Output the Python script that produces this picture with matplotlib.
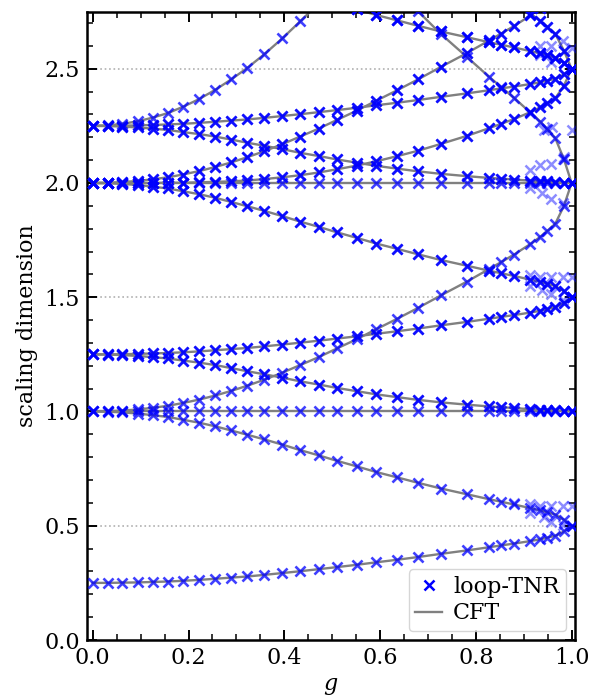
import matplotlib.pyplot as plt
from matplotlib.lines import Line2D

plt.rcParams['font.family'] = 'DejaVu Serif'
plt.rcParams['mathtext.fontset'] = 'dejavuserif'
plt.rcParams['font.size'] = 16

# coupling values where loop-TNR was run
g = [0.0, 0.031, 0.062, 0.094, 0.125, 0.157, 0.188, 0.222, 0.256, 0.289, 0.323,
     0.358, 0.396, 0.433, 0.472, 0.510, 0.551, 0.592, 0.635, 0.679, 0.727, 0.781,
     0.828, 0.853, 0.880, 0.914, 0.935, 0.949, 0.966, 0.984, 1.0]

# scaling dimension branches
x_025 = [0.250, 0.250, 0.251, 0.252, 0.254, 0.256, 0.259, 0.263, 0.268, 0.273, 0.278,
         0.285, 0.293, 0.301, 0.310, 0.319, 0.329, 0.340, 0.351, 0.363, 0.377, 0.392,
         0.406, 0.414, 0.422, 0.433, 0.441, 0.448, 0.456, 0.475, 0.500]
x_1_down = [1.000, 0.999, 0.996, 0.991, 0.984, 0.976, 0.964, 0.951, 0.935, 0.917, 0.898,
            0.878, 0.855, 0.831, 0.808, 0.784, 0.760, 0.735, 0.712, 0.688, 0.663, 0.638,
            0.616, 0.605, 0.593, 0.577, 0.567, 0.559, 0.549, 0.526, 0.500]
x_1_up = [1.000, 1.001, 1.004, 1.009, 1.016, 1.025, 1.037, 1.052, 1.070, 1.090, 1.113,
          1.139, 1.170, 1.203, 1.238, 1.276, 1.316, 1.360, 1.405, 1.453, 1.508, 1.568,
          1.624, 1.654, 1.687, 1.733, 1.765, 1.790, 1.822, 1.900, 2.000]
x_1_flat = [1.0] * 31
x_125_up = [1.250, 1.250, 1.251, 1.252, 1.254, 1.256, 1.259, 1.263, 1.268, 1.273, 1.278,
            1.285, 1.293, 1.301, 1.310, 1.319, 1.329, 1.340, 1.351, 1.363, 1.377, 1.392,
            1.406, 1.414, 1.422, 1.433, 1.441, 1.448, 1.456, 1.475, 1.500]
x_125_down = [1.250, 1.249, 1.247, 1.243, 1.238, 1.232, 1.223, 1.214, 1.203, 1.190, 1.176,
              1.163, 1.148, 1.132, 1.118, 1.103, 1.089, 1.075, 1.063, 1.051, 1.040, 1.030,
              1.022, 1.019, 1.015, 1.010, 1.008, 1.007, 1.005, 1.001, 1.000]
x_2_down = [2.000, 1.999, 1.996, 1.991, 1.984, 1.976, 1.964, 1.951, 1.935, 1.917, 1.898,
            1.878, 1.855, 1.831, 1.808, 1.784, 1.760, 1.735, 1.712, 1.688, 1.663, 1.638,
            1.616, 1.605, 1.593, 1.577, 1.567, 1.559, 1.549, 1.526, 1.500]
x_2_flat = [2.0] * 31
x_2_up = [2.000, 2.001, 2.004, 2.009, 2.016, 2.025, 2.037, 2.052, 2.070, 2.090, 2.113,
          2.139, 2.170, 2.203, 2.238, 2.276, 2.316, 2.360, 2.405, 2.453, 2.508, 2.568,
          2.624, 2.654, 2.687, 2.733, 2.765, 2.790, 2.822, 2.900, 3.000]
x_2_slow = [2.000, 2.000, 2.000, 2.000, 2.000, 2.001, 2.001, 2.003, 2.005, 2.007, 2.011,
            2.017, 2.025, 2.034, 2.046, 2.060, 2.076, 2.095, 2.117, 2.141, 2.171, 2.206,
            2.240, 2.259, 2.280, 2.310, 2.332, 2.349, 2.371, 2.426, 2.500]
x_225_up = [2.250, 2.250, 2.251, 2.252, 2.254, 2.256, 2.259, 2.263, 2.268, 2.273, 2.278,
            2.285, 2.293, 2.301, 2.310, 2.319, 2.329, 2.340, 2.351, 2.363, 2.377, 2.392,
            2.406, 2.414, 2.422, 2.433, 2.441, 2.448, 2.456, 2.475, 2.500]
x_225_down = [2.250, 2.249, 2.247, 2.243, 2.238, 2.232, 2.223, 2.214, 2.203, 2.190, 2.176,
              2.163, 2.148, 2.132, 2.118, 2.103, 2.089, 2.075, 2.063, 2.051, 2.040, 2.030,
              2.022, 2.019, 2.015, 2.010, 2.008, 2.007, 2.005, 2.001, 2.000]
x_225_steep = [2.250, 2.252, 2.259, 2.270, 2.286, 2.306, 2.333, 2.367, 2.408, 2.453, 2.504,
               2.563, 2.633, 2.707, 2.786, 2.871]
x_top_a = [2.940, 2.848, 2.752, 2.652, 2.552, 2.464, 2.420, 2.372, 2.308, 2.268, 2.236,
           2.196, 2.104, 2.000]
x_top_b = [2.784, 2.760, 2.735, 2.712, 2.688, 2.663, 2.638, 2.616, 2.605, 2.593, 2.577,
           2.567, 2.559, 2.549, 2.526, 2.500]
x_top_c = [2.944, 2.870, 2.834, 2.794, 2.741, 2.709, 2.684, 2.652, 2.579, 2.500]

# loop-TNR levels that drift off the CFT curves close to g = 1
g_off = [0.880, 0.914, 0.935, 0.956, 0.982, 1.0, 0.914, 0.942, 0.956, 0.983,
         0.914, 0.935, 0.956, 0.983, 1.0, 0.914, 0.938, 0.956, 0.983,
         0.914, 0.935, 0.956, 0.983, 0.914, 0.938, 0.956, 0.983,
         0.943, 0.960, 1.0, 0.985, 0.935, 0.935, 0.956, 0.956, 0.983, 1.0]
y_off = [0.600, 0.595, 0.586, 0.586, 0.586, 0.586, 0.554, 0.537, 0.517, 0.503,
         1.597, 1.590, 1.590, 1.590, 1.590, 1.550, 1.531, 1.512, 1.487,
         2.056, 2.078, 2.085, 2.107, 1.976, 1.954, 1.932, 1.912,
         2.230, 2.245, 2.230, 2.114, 2.600, 2.560, 2.600, 2.530, 2.620, 2.590]

# (g, values, degeneracy)
branches = [
    (g, x_025, 2), (g, x_1_down, 2), (g, x_1_up, 2), (g, x_1_flat, 2),
    (g, x_125_up, 4), (g, x_125_down, 4),
    (g, x_2_down, 4), (g, x_2_flat, 2), (g, x_2_up, 4), (g, x_2_slow, 4),
    (g, x_225_up, 4), (g, x_225_down, 4), (g[:16], x_225_steep, 2),
    (g[17:], x_top_a, 2), (g[15:], x_top_b, 6), (g[21:], x_top_c, 4),
]

fig = plt.figure(figsize=(5.9, 6.99), dpi=100)
ax = fig.add_axes([0.1475, 0.0844, 0.827, 0.899])

for yv in [0.5, 1.5, 2.5]:
    ax.axhline(yv, color='#b0b0b0', ls=':', lw=1.2, zorder=1)

for gx, yy, deg in branches:
    ax.plot(gx, yy, '-', color='grey', lw=1.7, zorder=2)
    for k in range(deg):
        ax.plot(gx, yy, 'x', color='blue', alpha=0.5, ms=7, mew=1.8, zorder=3)

ax.plot(g_off, y_off, 'x', color='blue', alpha=0.45, ms=7, mew=1.8, zorder=3)

ax.set_xlim(-0.012, 1.007)
ax.set_ylim(0, 2.75)
ax.set_xticks([0.0, 0.2, 0.4, 0.6, 0.8, 1.0])
ax.set_yticks([0.0, 0.5, 1.0, 1.5, 2.0, 2.5])
ax.set_xticks([i * 0.05 for i in range(21)], minor=True)
ax.set_yticks([i * 0.1 for i in range(28)], minor=True)
ax.tick_params(which='both', direction='in', top=True, right=True)
ax.tick_params(which='major', length=7, width=1.4, labelsize=16, pad=5)
ax.tick_params(which='minor', length=4, width=1.1)
for s in ax.spines.values():
    s.set_linewidth(1.8)

ax.set_xlabel('$g$', fontsize=16, labelpad=4)
ax.set_ylabel('scaling dimension', fontsize=16, labelpad=5)

handles = [Line2D([], [], ls='none', marker='x', color='blue', ms=7, mew=1.8),
           Line2D([], [], color='grey', lw=1.7)]
ax.legend(handles, ['loop-TNR', 'CFT'], loc='lower right', fontsize=16,
          handlelength=1.2, handletextpad=0.5, borderpad=0.3, labelspacing=0.2,
          borderaxespad=0.4)

fig.savefig('out.png', dpi=100)
